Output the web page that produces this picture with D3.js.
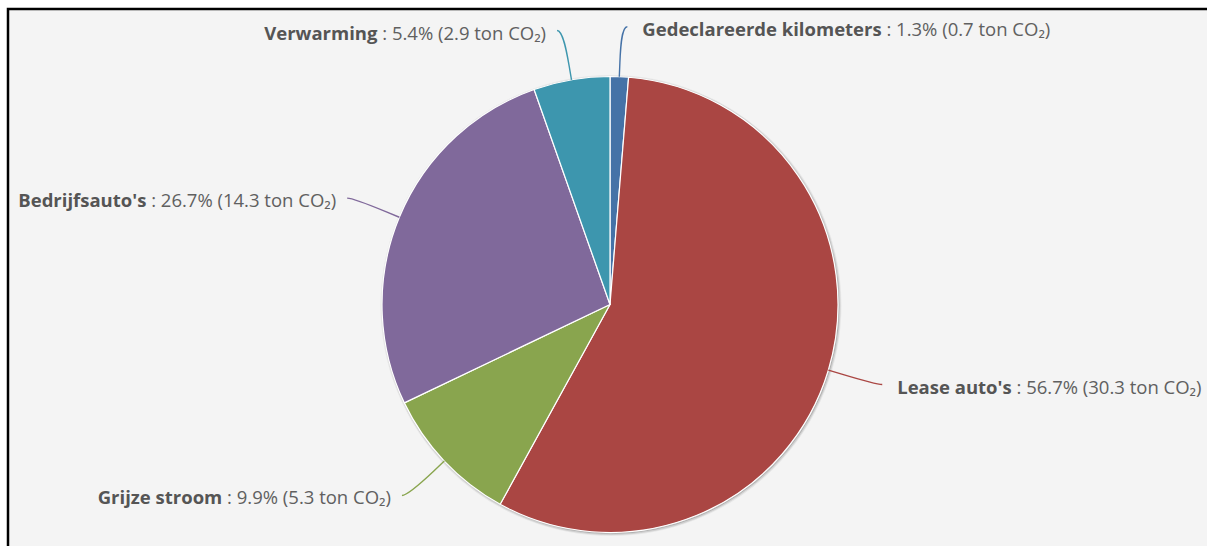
<!DOCTYPE html>
<html>
<head>
<meta charset="utf-8">
<script src="https://cdn.jsdelivr.net/npm/d3@7"></script>
<style>
  body { margin: 0; background: #fff; }
  svg { display: block; }
</style>
</head>
<body>
<div id="viz"></div>
<script>
// slice data, clockwise from 12 o'clock
var categories = ["Gedeclareerde kilometers", "Lease auto's", "Grijze stroom", "Bedrijfsauto's", "Verwarming"];
var percentages = [1.3, 56.7, 9.9, 26.7, 5.4];
var tons = [0.7, 30.3, 5.3, 14.3, 2.9];
var colors = ["#4572A7", "#AA4643", "#89A54E", "#80699B", "#3D96AE"];

var width = 1207, height = 546;
var cx = 610, cy = 304.5, radius = 228;
var labelDistance = 50;

var svg = d3.select('#viz').append('svg')
  .attr('width', width)
  .attr('height', height);

// panel background + black frame (clipped on the right and bottom)
svg.append('rect')
  .attr('x', 8).attr('y', 9)
  .attr('width', width + 20).attr('height', height + 20)
  .attr('fill', '#f4f4f4')
  .attr('stroke', '#000')
  .attr('stroke-width', 2.5);

var slices = categories.map(function(c, i) {
  return {name: c, pct: percentages[i], ton: tons[i], color: colors[i]};
});

var pie = d3.pie().sort(null).value(function(d) { return d.pct; });
var arcs = pie(slices);

var arc = d3.arc().innerRadius(0).outerRadius(radius);

var chart = svg.append('g').attr('transform', 'translate(' + cx + ',' + cy + ')');

// soft shadow round the pie
[5, 3, 1].forEach(function(w, k) {
  chart.append('circle')
    .attr('cx', 1).attr('cy', 1)
    .attr('r', radius)
    .attr('fill', 'none')
    .attr('stroke', 'rgba(0,0,0,' + (0.05 * (k + 1)) + ')')
    .attr('stroke-width', w);
});

chart.selectAll('path.slice')
  .data(arcs)
  .enter()
  .append('path')
  .attr('class', 'slice')
  .attr('d', arc)
  .attr('fill', function(d) { return d.data.color; })
  .attr('stroke', '#fff')
  .attr('stroke-width', 1.2)
  .attr('stroke-linejoin', 'round');

// point on a circle of radius r at angle a (0 = up, clockwise)
function pt(a, r) {
  return [Math.sin(a) * r, -Math.cos(a) * r];
}

// connectors and labels
arcs.forEach(function(d) {
  var a = (d.startAngle + d.endAngle) / 2;
  var right = Math.sin(a) >= 0;
  var dir = right ? 1 : -1;
  var p0 = pt(a, radius);
  var p1 = pt(a, radius + 14);
  var lab = pt(a, radius + labelDistance);
  var sx = lab[0] + dir * 6, sy = lab[1];

  var path = d3.path();
  path.moveTo(sx, sy);
  path.bezierCurveTo(lab[0], lab[1], 2 * p1[0] - p0[0], 2 * p1[1] - p0[1], p1[0], p1[1]);
  path.lineTo(p0[0], p0[1]);

  chart.append('path')
    .attr('d', path.toString())
    .attr('fill', 'none')
    .attr('stroke', d.data.color)
    .attr('stroke-width', 1.4);

  var text = chart.append('text')
    .attr('x', lab[0] + dir * (right ? 21 : 17))
    .attr('y', lab[1] + 9)
    .attr('text-anchor', right ? 'start' : 'end')
    .style('font-family', '"Open Sans", "Noto Sans", sans-serif')
    .style('font-size', '18.5px')
    .attr('fill', '#606060');

  text.append('tspan')
    .style('font-weight', 'bold')
    .attr('fill', '#555')
    .text(d.data.name);
  text.append('tspan')
    .text(' : ' + d.data.pct.toFixed(1) + '% (' + d.data.ton.toFixed(1) + ' ton CO\u2082)');
});
</script>
</body>
</html>
